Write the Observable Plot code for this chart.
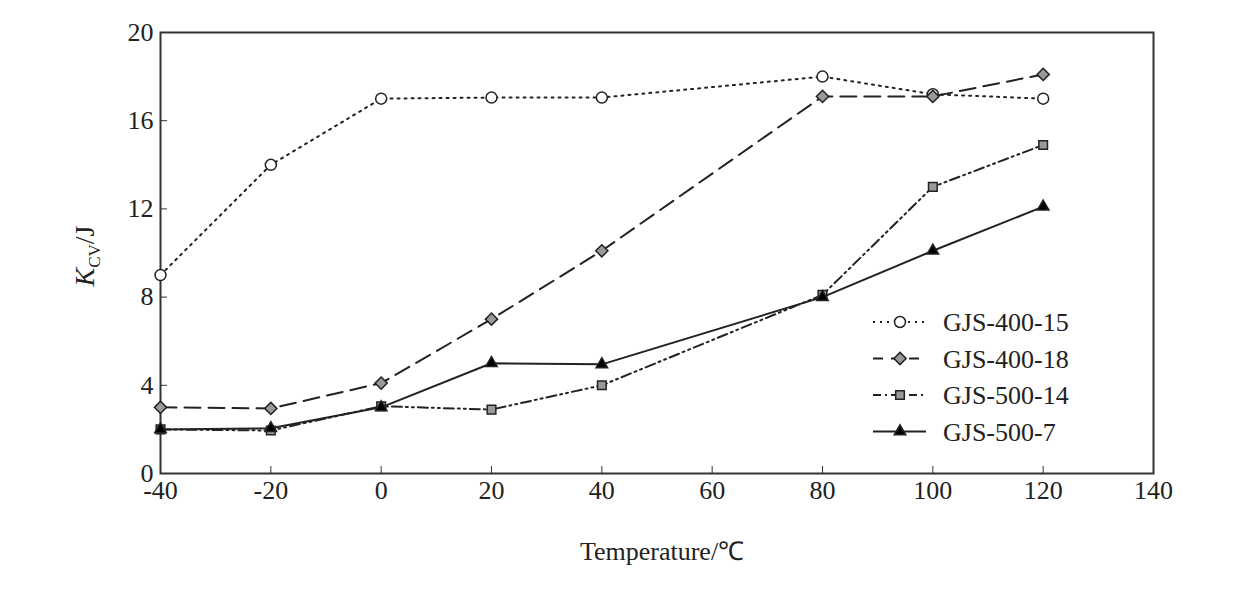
<!DOCTYPE html>
<html><head><meta charset="utf-8">
<script src="https://cdn.jsdelivr.net/npm/d3@7"></script>
<script src="https://cdn.jsdelivr.net/npm/@observablehq/plot@0.6"></script>
<style>body{margin:0;background:#fff}svg{font-family:"Liberation Serif",serif}</style>
</head><body><div id="c"></div>
<script>
const temps = [-40, -20, 0, 20, 40, 80, 100, 120];
const s40015 = [9, 14, 17, 17.05, 17.05, 18, 17.2, 17];
const s40018 = [3, 2.95, 4.1, 7, 10.1, 17.1, 17.1, 18.1];
const s50014 = [2, 1.95, 3.05, 2.9, 4, 8.1, 13, 14.9];
const s5007 = [2, 2.05, 3, 5, 4.95, 8, 10.1, 12.1];
const xTicks = [-40, -20, 0, 20, 40, 60, 80, 100, 120, 140];
const yTicks = [0, 4, 8, 12, 16, 20];
const series = [
  {name:"GJS-400-15", vals:s40015, dash:"2,5", sym:"circle", fill:"#fff"},
  {name:"GJS-400-18", vals:s40018, dash:"16,8", sym:"diamond2", fill:"#999"},
  {name:"GJS-500-14", vals:s50014, dash:"10,4,2,4,2,4", sym:"square2", fill:"#999"},
  {name:"GJS-500-7", vals:s5007, dash:null, sym:"triangle2", fill:"#000"}
];
const marks = [Plot.frame({stroke:"#333", strokeWidth:2})];
for (const s of series) {
  const data = temps.map((t,i)=>({x:t, y:s.vals[i]}));
  marks.push(Plot.line(data, {x:"x", y:"y", stroke:"#222", strokeWidth:2, strokeDasharray:s.dash}));
  marks.push(Plot.dot(data, {x:"x", y:"y", symbol:()=>s.sym, fill:s.fill, stroke:"#222", strokeWidth:1.5, r:5.5}));
}
marks.push(Plot.axisX({ticks:xTicks, tickSize:-7, tickPadding:14, tickFormat:d=>String(d), label:null, stroke:"#333"}));
marks.push(Plot.axisY({ticks:yTicks, tickSize:-7, tickPadding:14, tickFormat:d=>String(d), label:null, stroke:"#333"}));
const chart = Plot.plot({
  width:1242, height:589, marginLeft:160, marginRight:89, marginTop:32, marginBottom:116,
  x:{domain:[-40,140]}, y:{domain:[0,20]},
  style:{fontFamily:"Liberation Serif, serif", fontSize:"26px", color:"#222", background:"#fff"},
  marks
});
document.getElementById("c").append(chart);
const svg = d3.select(chart);
svg.append("text").attr("x",662).attr("y",560).attr("text-anchor","middle").attr("font-size",26).attr("fill","#222").text("Temperature/℃");
const yl = svg.append("text").attr("transform","translate(94,256) rotate(-90)").attr("text-anchor","middle").attr("font-size",28).attr("fill","#222");
yl.append("tspan").attr("font-style","italic").text("K");
yl.append("tspan").attr("font-size",17).attr("dy",6).text("CV");
yl.append("tspan").attr("dy",-6).text("/J");
const sym = {circle:d3.symbolCircle, diamond2:d3.symbolDiamond2, square2:d3.symbolSquare2, triangle2:d3.symbolTriangle2};
series.forEach((s,i)=>{
  const y = 322 + i*36.5;
  svg.append("line").attr("x1",873).attr("x2",926).attr("y1",y).attr("y2",y).attr("stroke","#222").attr("stroke-width",2).attr("stroke-dasharray",s.dash? (i==0?"2,5":i==1?"10,8":"8,4,2,4"):null);
  svg.append("path").attr("transform",`translate(900,${y})`).attr("d",d3.symbol(sym[s.sym], 95)()).attr("fill",s.fill).attr("stroke","#222").attr("stroke-width",1.5);
  svg.append("text").attr("x",943).attr("y",y+9).attr("text-anchor","start").attr("font-size",26).attr("fill","#222").text(s.name);
});
</script></body></html>
